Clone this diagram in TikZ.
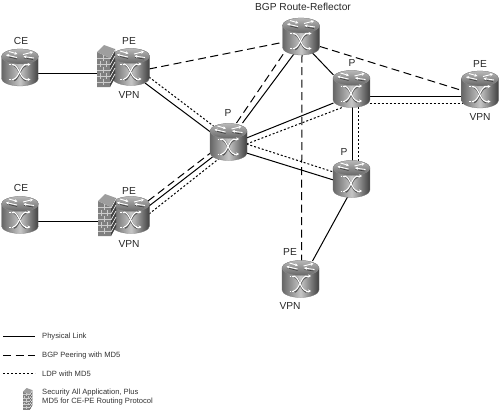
\documentclass[tikz,border=0pt]{standalone}
\usepackage{fontspec}
\setmainfont{Liberation Sans}
\usetikzlibrary{backgrounds,arrows.meta}
\definecolor{brick}{gray}{0.5}
\definecolor{wallside}{gray}{0.25}
\tikzset{
  x=1pt,y=-1pt,
  rt/.style={inner sep=0pt,minimum size=1pt,draw=none},
  lab/.style={inner sep=0pt,font=\fontsize{10.2}{10.5}\selectfont,text=black!85},
  leg/.style={inner sep=0pt,anchor=west,font=\fontsize{7.6}{9.5}\selectfont,text=black!80,align=left},
  phys/.style={line width=1pt,black},
  bgp/.style={line width=1pt,black,dash pattern=on 8pt off 4.5pt},
  ldp/.style={line width=1pt,black,dash pattern=on 2pt off 2pt},
  wa/.style={white,line width=0.9pt,-{Stealth[length=3pt,width=3.2pt]}},
  wl/.style={white,line width=1.1pt},
  sh/.style={black!65,line width=1.9pt},
  pics/router/.style={code={
    % body
    \path[left color=black!60,right color=black!75,middle color=black!22,draw=black!55,line width=.25pt]
      (-18.5,-11) -- (-18.5,11) .. controls (-18.5,15.1) and (-10.2,18.5) .. (0,18.5)
      .. controls (10.2,18.5) and (18.5,15.1) .. (18.5,11)
      -- (18.5,-11) .. controls (18.5,-15.1) and (10.2,-18.5) .. (0,-18.5)
      .. controls (-10.2,-18.5) and (-18.5,-15.1) .. (-18.5,-11) -- cycle;
    % top
    \path[top color=black!28,bottom color=black!60,draw=black!45,line width=.25pt]
      (0,-11) ellipse[x radius=18.5,y radius=7.5];
    % top arrows
    \draw[black!75,line width=.7pt] (-13,-11) -- (-3,-8.5);
    \draw[black!75,line width=.7pt] (4,-9.5) -- (13,-8);
    \draw[wa] (-3,-10) -- (-14,-12.5);
    \draw[wa] (3,-13) -- (13,-15.5);
    \draw[wa] (-11,-16) -- (-2.5,-13.5);
    \draw[wa] (14,-9.5) -- (3.5,-11);
    % front X
    \draw[sh] (-6,-2) .. controls (-1,-1) and (0,11) .. (6,13);
    \draw[sh] (-6,13) .. controls (-1,11) and (0,-1) .. (6,-2);
    \draw[wl] (-7,-3) .. controls (-1,-2) and (0,11) .. (6,12);
    \draw[wl] (-7,12) .. controls (-1,11) and (0,-2) .. (6,-3);
    \draw[wa] (4,-3) -- (10.5,-3);
    \draw[wa] (5,12) -- (10.5,12);
    \draw[white,line width=.9pt,dash pattern=on 1.5pt off 1.2pt] (-11,-3) -- (-6,-3);
    \draw[white,line width=.9pt,dash pattern=on 1.5pt off 1.2pt] (-11,12) -- (-6,12);
  }},
  pics/firewall/.style={code={
    \fill[brick] (0,7) -- (13,13) -- (13,42) -- (0,42) -- cycle;
    \fill[black!38] (0,7) -- (13,13) -- (18,4) -- (7,0) -- cycle;
    \fill[wallside] (13,13) -- (18,4) -- (18,33) -- (13,42) -- cycle;
    \foreach \yy in {13,19,25,31,37} {
      \draw[black!20,line width=.7pt] (0,\yy) -- (13,{max(\yy,13)});
      \draw[black!8,line width=.7pt] (13,\yy+1) -- (18,\yy-8);
    }
    \foreach \xx/\yy in {6.5/10,6.5/22,6.5/34} \draw[black!20,line width=.7pt] (\xx,\yy) -- (\xx,\yy+6);
    \foreach \xx/\yy in {3.5/16,9.5/16,3.5/28,9.5/28} \draw[black!20,line width=.7pt] (\xx,\yy) -- (\xx,\yy+5.5);
  }}
}
\begin{document}
\begin{tikzpicture}
\useasboundingbox (0,0) rectangle (500,410);
% anchor nodes
\node[rt] (ce1) at (20,67.5) {};
\node[rt] (pe1) at (131,67) {};
\node[rt] (ce2) at (20,215) {};
\node[rt] (pe2) at (131,215) {};
\node[rt] (pc) at (228.5,142) {};
\node[rt] (rr) at (301,36.5) {};
\node[rt] (p2) at (351.5,89) {};
\node[rt] (per) at (480,89.5) {};
\node[rt] (p3) at (351.5,179) {};
\node[rt] (peb) at (300.5,279) {};
\coordinate (l1a) at (3,336.5); \coordinate (l1b) at (35,336.5);
\coordinate (l2a) at (3,355.5); \coordinate (l2b) at (35,355.5);
\coordinate (l3a) at (3,373.5); \coordinate (l3b) at (35,373.5);
% connectors
\begin{scope}[on background layer]
\draw[phys] ([shift={(0,5.5)}]ce1.center) -- ([shift={(0,6)}]pe1.center);
\draw[phys] ([shift={(0,6.5)}]ce2.center) -- ([shift={(0,6.5)}]pe2.center);
\draw[phys] ([shift={(14,16)}]pe1.center) -- ([shift={(-18,-10)}]pc.center);
\draw[ldp] ([shift={(18,10)}]pe1.center) -- ([shift={(-15,-16)}]pc.center);
\draw[bgp] ([shift={(18,2)}]pe1.center) -- ([shift={(-19,6)}]rr.center);
\draw[bgp] ([shift={(17,-14)}]pe2.center) -- ([shift={(-18,11)}]pc.center);
\draw[phys] ([shift={(18,-9)}]pe2.center) -- ([shift={(-16,15)}]pc.center);
\draw[ldp] ([shift={(18,-1)}]pe2.center) -- ([shift={(-10,17)}]pc.center);
\draw[bgp] ([shift={(8,-19)}]pc.center) -- ([shift={(-16,15)}]rr.center);
\draw[phys] ([shift={(14,-19)}]pc.center) -- ([shift={(-6,16)}]rr.center);
\draw[phys] ([shift={(11,16)}]rr.center) -- ([shift={(-18,-14)}]p2.center);
\draw[bgp] ([shift={(19,10)}]rr.center) -- ([shift={(-18,1)}]per.center);
\draw[bgp] ([shift={(1,18)}]rr.center) -- ([shift={(1,-18)}]peb.center);
\draw[phys] ([shift={(18,7)}]p2.center) -- ([shift={(-18,6.5)}]per.center);
\draw[ldp] ([shift={(18,14)}]p2.center) -- ([shift={(-18,13.5)}]per.center);
\draw[phys] ([shift={(18,-4)}]pc.center) -- ([shift={(-18,14)}]p2.center);
\draw[ldp] ([shift={(18,2)}]pc.center) -- ([shift={(-8,18)}]p2.center);
\draw[phys] ([shift={(18,11)}]pc.center) -- ([shift={(-18,1)}]p3.center);
\draw[ldp] ([shift={(18,2)}]pc.center) -- ([shift={(-18,-7)}]p3.center);
\draw[phys] ([shift={(0.5,18)}]p2.center) -- ([shift={(0.5,-18)}]p3.center);
\draw[ldp] ([shift={(6.5,18)}]p2.center) -- ([shift={(6.5,-18)}]p3.center);
\draw[phys] ([shift={(-4,18)}]p3.center) -- ([shift={(12,-18)}]peb.center);
\end{scope}
% routers
\foreach \n in {ce1,pe1,ce2,pe2,pc,rr,p2,per,p3,peb} \pic at (\n.center) {router};
% firewalls
\pic at (97,45) {firewall};
\pic at (98,194) {firewall};
% labels
\node[lab] (t0) at (303,6.5) {BGP Route-Reflector};
\node[lab] (t1) at (21,41) {CE};
\node[lab] (t2) at (129,41) {PE};
\node[lab] (t3) at (129,95) {VPN};
\node[lab] (t4) at (21,188) {CE};
\node[lab] (t5) at (129,191) {PE};
\node[lab] (t6) at (129,244) {VPN};
\node[lab] (t7) at (228,113) {P};
\node[lab] (t8) at (352,63) {P};
\node[lab] (t9) at (480,63.5) {PE};
\node[lab] (t10) at (480,117) {VPN};
\node[lab] (t11) at (344,152) {P};
\node[lab] (t12) at (290,252) {PE};
\node[lab] (t13) at (290,306) {VPN};
% legend
\draw[phys] (l1a) -- (l1b);
\draw[bgp] (l2a) -- (l2b);
\draw[ldp] (l3a) -- (l3b);
\node[leg] (k1) at (42,337) {Physical Link};
\node[leg] (k2) at (42,355.5) {BGP Peering with MD5};
\node[leg] (k3) at (42,374) {LDP with MD5};
\node[leg] (k4) at (42,397) {Security All Application, Plus\\MD5 for CE-PE Routing Protocol};
\pic[transform shape,scale=.52] at (23,388) {firewall};
\end{tikzpicture}
\end{document}
